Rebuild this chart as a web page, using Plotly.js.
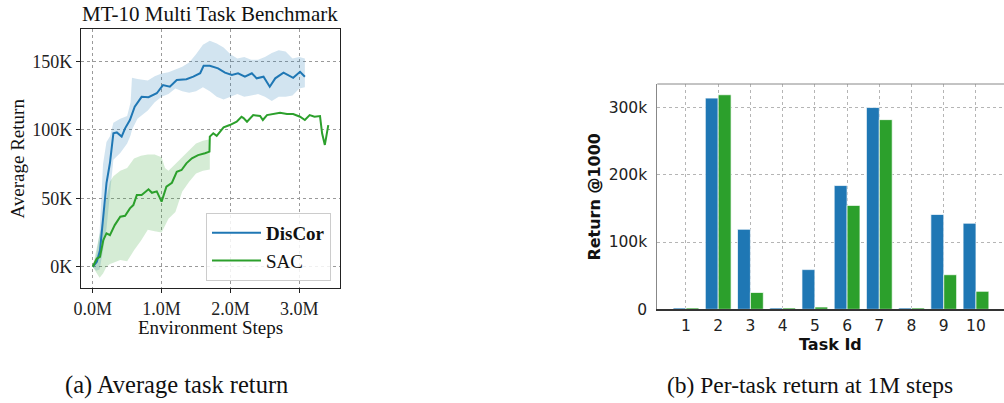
<!DOCTYPE html>
<html>
<head>
<meta charset="utf-8">
<script src="https://cdn.plot.ly/plotly-3.0.1.min.js"></script>
<style>
html,body{margin:0;padding:0;background:#fff;}
#chart{width:1004px;height:403px;}
</style>
</head>
<body>
<div id="chart"></div>
<script>
// ---------- Panel (a): MT-10 average return (x in millions of steps, y in thousands) ----------
const discorX = [0, 0.06, 0.106, 0.154, 0.2, 0.25, 0.30, 0.35, 0.42, 0.47, 0.54, 0.61, 0.71, 0.81, 0.93, 1.02, 1.12, 1.22, 1.36, 1.46, 1.56, 1.61, 1.70, 1.82, 1.92, 2.02, 2.11, 2.21, 2.31, 2.38, 2.48, 2.57, 2.65, 2.77, 2.84, 2.91, 3.01, 3.08];
const discorY = [0, 3.6, 12, 36.5, 61, 75.7, 97.4, 98, 95, 101, 107, 116.8, 124, 123.7, 126.6, 132.6, 131.4, 136.3, 136.8, 138.7, 141.2, 146.7, 146.7, 144.8, 141.6, 139.9, 141.2, 138.7, 141.2, 137.5, 138.7, 131.4, 137.5, 141.6, 139.9, 137.9, 142.3, 138.7];

const discorBandX = [0, 0.05, 0.1, 0.15, 0.2, 0.25, 0.3, 0.4, 0.5, 0.55, 0.57, 0.65, 0.8, 0.9, 1.0, 1.1, 1.2, 1.3, 1.4, 1.5, 1.6, 1.7, 1.8, 1.9, 2.0, 2.1, 2.2, 2.3, 2.4, 2.5, 2.6, 2.7, 2.8, 2.9, 3.0, 3.08];
const discorUpper = [0, 8, 25, 75, 91, 95, 105, 108, 110, 120, 138, 137, 136, 139, 141, 142, 144, 146, 149, 155, 162, 165, 163, 160, 155, 152, 153, 151, 151, 153, 156, 158, 157, 152, 153, 152];
const discorLower = [0, -3, -2, 12, 28, 55, 78, 83, 90, 96, 100, 108, 114, 120, 124, 126, 130, 128, 127, 128, 131, 128, 124, 122, 124, 126, 124, 125, 126, 124, 121, 124, 124, 125, 130, 131];

const sacX = [0, 0.06, 0.106, 0.154, 0.2, 0.25, 0.32, 0.40, 0.47, 0.54, 0.59, 0.64, 0.71, 0.81, 0.86, 0.93, 1.0, 1.07, 1.15, 1.22, 1.29, 1.36, 1.44, 1.53, 1.63, 1.695, 1.70, 1.75, 1.80, 1.90, 1.99, 2.09, 2.16, 2.19, 2.24, 2.33, 2.43, 2.47, 2.53, 2.62, 2.72, 2.82, 2.91, 3.01, 3.08, 3.15, 3.22, 3.30, 3.33, 3.37, 3.42];
const sacY = [0, 6, 7.3, 19.5, 24.4, 23.1, 30.4, 36.5, 37.2, 42.6, 45, 52.3, 52.3, 56.5, 54, 55, 47.5, 58.4, 61.3, 69.3, 70.6, 75.5, 79.1, 81.5, 82.8, 84, 95, 97.4, 95.5, 101.7, 103.4, 105.8, 109.5, 108.5, 105.8, 110.7, 110, 107.1, 110.7, 111.5, 112.4, 111.5, 111.5, 109.5, 107.1, 110.7, 109.5, 110, 97.4, 88.9, 103.4];

const sacBandX = [0, 0.05, 0.1, 0.15, 0.2, 0.25, 0.3, 0.4, 0.5, 0.6, 0.7, 0.8, 0.9, 1.0, 1.05, 1.1, 1.2, 1.3, 1.4, 1.5, 1.6, 1.7];
const sacUpper = [0, 12, 22, 35, 50, 62, 66, 70, 72, 79, 81, 82, 82, 80, 72, 70, 75, 80, 85, 90, 92, 93];
const sacLower = [0, -4, -8, -5, 0, 2, 3, 5, 4, 12, 19, 27, 26, 25, 30, 35, 40, 55, 62, 68, 70, 71];

const aXTicks = [0, 1, 2, 3];
const aXTickText = ['0.0M', '1.0M', '2.0M', '3.0M'];
const aYTicks = [0, 50, 100, 150];
const aYTickText = ['0K', '50K', '100K', '150K'];

// ---------- Panel (b): per-task return at 1M steps (thousands) ----------
const taskIds = [1, 2, 3, 4, 5, 6, 7, 8, 9, 10];
const discorTask = [2, 314, 119, 2, 59, 184, 300, 2, 141, 128];
const sacTask = [2, 319, 25, 2, 3.4, 154.5, 282, 2, 51.4, 26.7];
const bYTicks = [0, 100, 200, 300];
const bYTickText = ['0', '100k', '200k', '300k'];

const BLUE = '#1f77b4', GREEN = '#2ca02c';
const SERIF = 'Liberation Serif, Times New Roman, serif';
const SANS = 'DejaVu Sans, sans-serif';

function band(xs, up, lo, color) {
  return {
    x: xs.concat(xs.slice().reverse()),
    y: up.concat(lo.slice().reverse()),
    type: 'scatter', mode: 'lines', fill: 'toself', fillcolor: color,
    line: {width: 0, color: color}, hoverinfo: 'skip', showlegend: false,
    xaxis: 'x', yaxis: 'y'
  };
}

const traces = [
  band(discorBandX, discorUpper, discorLower, 'rgba(31,119,180,0.2)'),
  band(sacBandX, sacUpper, sacLower, 'rgba(44,160,44,0.2)'),
  {x: discorX, y: discorY, type: 'scatter', mode: 'lines', name: '<b>DisCor</b>',
   line: {color: BLUE, width: 2}, xaxis: 'x', yaxis: 'y'},
  {x: sacX, y: sacY, type: 'scatter', mode: 'lines', name: 'SAC',
   line: {color: GREEN, width: 2}, xaxis: 'x', yaxis: 'y'},
  {x: taskIds, y: discorTask, type: 'bar', name: 'DisCor', showlegend: false,
   marker: {color: BLUE, line: {color: 'rgba(255,255,255,0.7)', width: 1}}, xaxis: 'x2', yaxis: 'y2'},
  {x: taskIds, y: sacTask, type: 'bar', name: 'SAC', showlegend: false,
   marker: {color: GREEN, line: {color: 'rgba(255,255,255,0.7)', width: 1}}, xaxis: 'x2', yaxis: 'y2'}
];

const W = 1004, H = 403;
const px = v => v / W, py = v => 1 - v / H;

const layout = {
  width: W, height: H,
  margin: {l: 0, r: 0, t: 0, b: 0},
  paper_bgcolor: '#fff', plot_bgcolor: '#fff',
  showlegend: true,
  barmode: 'group', bargap: 0.2, bargroupgap: 0,
  xaxis: {
    domain: [px(81), px(340)], anchor: 'y', range: [-0.17, 3.59],
    tickvals: aXTicks, ticktext: aXTickText,
    showline: true, mirror: true, linecolor: '#222', linewidth: 1.2,
    showgrid: true, gridcolor: '#9a9a9a', griddash: 'dot', gridwidth: 1,
    zeroline: false, ticks: 'outside', ticklen: 4, tickcolor: '#222',
    ticklabelstandoff: 0,
    tickfont: {family: SERIF, size: 18, color: '#222'}
  },
  yaxis: {
    domain: [py(288), py(29)], anchor: 'x', range: [-15.5, 173.5],
    tickvals: aYTicks, ticktext: aYTickText,
    showline: true, mirror: true, linecolor: '#222', linewidth: 1.2,
    showgrid: true, gridcolor: '#9a9a9a', griddash: 'dot', gridwidth: 1,
    zeroline: false, ticks: 'outside', ticklen: 4, tickcolor: '#222',
    tickfont: {family: SERIF, size: 18, color: '#222'}
  },
  xaxis2: {
    domain: [px(657.3), 1], anchor: 'y2', range: [0.11, 10.87],
    tickvals: taskIds, ticktext: taskIds.map(String),
    showline: true, linecolor: '#333', linewidth: 1.2,
    showgrid: true, gridcolor: '#b5b5b5', griddash: 'dot', gridwidth: 1,
    zeroline: false, ticks: '', ticklabelstandoff: 2,
    tickfont: {family: SANS, size: 15.5, color: '#222'}
  },
  yaxis2: {
    domain: [py(309.3), py(84)], anchor: 'x2', range: [0, 335],
    tickvals: bYTicks, ticktext: bYTickText,
    showline: true, linecolor: '#888', linewidth: 1,
    showgrid: true, gridcolor: '#b5b5b5', griddash: 'dot', gridwidth: 1,
    zeroline: false, ticks: '', ticklabelstandoff: 6,
    tickfont: {family: SANS, size: 15.5, color: '#222'}
  },
  shapes: [
    {type: 'line', xref: 'x2 domain', yref: 'y2 domain', x0: 0, x1: 1, y0: 1, y1: 1,
     line: {color: '#888', width: 1}}
  ],
  legend: {
    x: px(331), y: py(281), xanchor: 'right', yanchor: 'bottom',
    bgcolor: 'rgba(255,255,255,0.85)', bordercolor: '#cccccc', borderwidth: 1,
    font: {family: SERIF, size: 19, color: '#111'},
    itemwidth: 49, tracegroupgap: 0
  },
  annotations: [
    {text: 'MT-10 Multi Task Benchmark', x: px(210), y: py(14), xref: 'paper', yref: 'paper',
     showarrow: false, xanchor: 'center', yanchor: 'middle', font: {family: SERIF, size: 21, color: '#111'}},
    {text: 'Average Return', x: px(17), y: py(158.5), xref: 'paper', yref: 'paper', textangle: -90,
     showarrow: false, xanchor: 'center', yanchor: 'middle', font: {family: SERIF, size: 19, color: '#111'}},
    {text: 'Environment Steps', x: px(210), y: py(327.5), xref: 'paper', yref: 'paper',
     showarrow: false, xanchor: 'center', yanchor: 'middle', font: {family: SERIF, size: 19, color: '#111'}},
    {text: '<b>Return @1000</b>', x: px(595), y: py(196.6), xref: 'paper', yref: 'paper', textangle: -90,
     showarrow: false, xanchor: 'center', yanchor: 'middle', font: {family: SANS, size: 16, color: '#111'}},
    {text: '<b>Task Id</b>', x: px(830.6), y: py(344), xref: 'paper', yref: 'paper',
     showarrow: false, xanchor: 'center', yanchor: 'middle', font: {family: SANS, size: 16, color: '#111'}},
    {text: '(a) Average task return', x: px(176.5), y: py(385), xref: 'paper', yref: 'paper',
     showarrow: false, xanchor: 'center', yanchor: 'middle', font: {family: SERIF, size: 24.5, color: '#111'}},
    {text: '(b) Per-task return at 1M steps', x: px(809.5), y: py(385), xref: 'paper', yref: 'paper',
     showarrow: false, xanchor: 'center', yanchor: 'middle', font: {family: SERIF, size: 23.5, color: '#111'}}
  ]
};

Plotly.newPlot('chart', traces, layout, {displayModeBar: false, staticPlot: true});
</script>
</body>
</html>
